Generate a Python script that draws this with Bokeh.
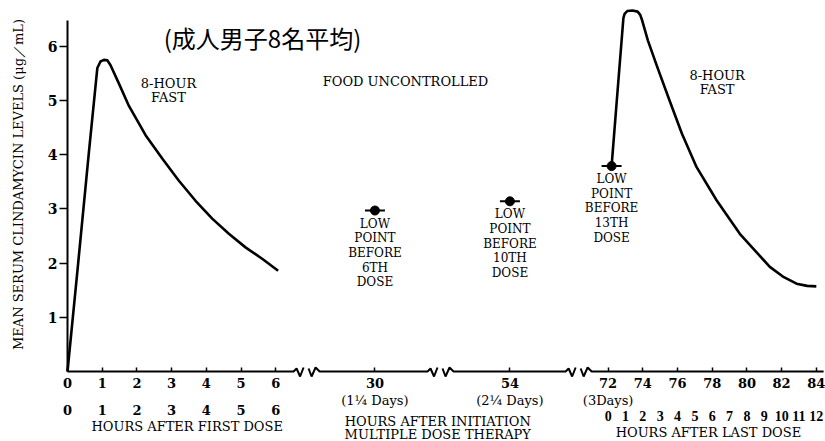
from bokeh.plotting import figure
from bokeh.models import Range1d, LinearAxis, FixedTicker, ColumnDataSource
from bokeh.core.properties import value
from bokeh.embed import file_html
from bokeh.resources import INLINE

# ---------------- data ----------------
first_dose_hours = [0.0, 0.30, 0.61, 0.86, 0.95, 1.05, 1.15, 1.24, 1.47, 1.77, 2.25,
                    2.73, 3.21, 3.69, 4.17, 4.65, 5.13, 5.61, 6.07]
first_dose_levels = [0.0, 1.95, 4.00, 5.60, 5.72, 5.75, 5.74, 5.65, 5.33, 4.90, 4.36,
                     3.93, 3.52, 3.15, 2.82, 2.54, 2.29, 2.08, 1.86]

last_dose_hours = [72.2, 72.5, 72.88, 72.95, 73.1, 73.4, 73.7, 73.85, 73.96, 74.29, 74.83,
                   75.54, 76.25, 77.10, 78.25, 79.59, 81.32, 82.13, 82.86, 83.47, 84.0]
last_dose_levels = [3.79, 5.0, 6.52, 6.60, 6.65, 6.66, 6.64, 6.58, 6.48, 6.11, 5.62,
                    5.00, 4.39, 3.77, 3.16, 2.54, 1.93, 1.74, 1.62, 1.58, 1.57]

trough_hours = [30, 54, 72.2]
trough_levels = [2.97, 3.14, 3.79]
trough_notes = [["LOW", "POINT", "BEFORE", "6TH", "DOSE"],
                ["LOW", "POINT", "BEFORE", "10TH", "DOSE"],
                ["LOW", "POINT", "BEFORE", "13TH", "DOSE"]]

y_ticks = [1, 2, 3, 4, 5, 6]
x_tick_hours = [0, 1, 2, 3, 4, 5, 6, 30, 54, 72, 74, 76, 78, 80, 82, 84]
x_tick_labels = ["0", "1", "2", "3", "4", "5", "6", "30", "54",
                 "72", "74", "76", "78", "80", "82", "84"]
first_dose_row_hours = [0, 1, 2, 3, 4, 5, 6]
first_dose_row_labels = ["0", "1", "2", "3", "4", "5", "6"]
day_hours = [30, 54, 72]
day_labels = ["(1¼ Days)", "(2¼ Days)", "(3Days)"]
last_dose_row_hours = [72, 73, 74, 75, 76, 77, 78, 79, 80, 81, 82, 83, 84]
last_dose_row_labels = ["0", "1", "2", "3", "4", "5", "6", "7", "8", "9", "10", "11", "12"]

title_text = "(成人男子8名平均)"
y_title = "MEAN SERUM CLINDAMYCIN LEVELS (μg／mL)"

# ---------------- layout ----------------
W, H = 825, 441
PX_U = 34.7     # px per display unit (x)
PX_V = 54.2     # px per level unit (y)
ORIGIN_X = 67   # canvas px of x=0
ORIGIN_Y = 371  # canvas px of level 0

# broken time axis: segment start hour, display start, scale, upper limit
SEG_H = [0, 30, 54, 72]
SEG_U = [0.0, 8.86, 12.75, 15.58]
SEG_K = [1.0, 1.0, 1.0, 0.5]
SEG_LIM = [20, 45, 65, 1e9]


def to_u(h):
    for h0, u0, k, lim in zip(SEG_H, SEG_U, SEG_K, SEG_LIM):
        if h < lim:
            return u0 + (h - h0) * k
    return None


def pu(px):
    return px / PX_U


def pv(px):
    return -px / PX_V


BREAKS_U = [6.89, 10.75, 14.73]
U_END = 21.79
Y_TOP = 6.48

FONT = "DejaVu Serif"

p = figure(width=W, height=H, output_backend="svg", toolbar_location=None,
           x_axis_location=None, y_axis_location=None,
           x_range=Range1d(-ORIGIN_X / PX_U, (W - ORIGIN_X) / PX_U),
           y_range=Range1d((ORIGIN_Y - H) / PX_V, ORIGIN_Y / PX_V),
           min_border=0, outline_line_color=None,
           background_fill_color="white", border_fill_color="white")
p.grid.visible = False

# y axis (real axis, fixed at x=0)
yaxis = LinearAxis(fixed_location=0, bounds=(0, Y_TOP),
                   ticker=FixedTicker(ticks=y_ticks),
                   axis_line_width=2, axis_line_color="black",
                   major_tick_out=8, major_tick_in=0, major_tick_line_width=1.5,
                   minor_tick_line_color=None, major_label_standoff=2,
                   major_label_text_font=FONT, major_label_text_font_style="bold",
                   major_label_text_font_size="14px", major_label_text_color="black")
p.add_layout(yaxis, "left")

# x axis (real axis for ticks + first row of labels, line drawn with breaks)
x_tick_u = [to_u(h) for h in x_tick_hours]
xaxis = LinearAxis(fixed_location=0, ticker=FixedTicker(ticks=x_tick_u),
                   major_label_overrides={u: lab for u, lab in zip(x_tick_u, x_tick_labels)},
                   axis_line_color=None, major_tick_in=4, major_tick_out=0,
                   major_tick_line_width=1.5, minor_tick_line_color=None,
                   major_label_standoff=6,
                   major_label_text_font=FONT, major_label_text_font_style="bold",
                   major_label_text_font_size="13px", major_label_text_color="black")
p.add_layout(xaxis, "below")

# broken baseline with squiggles
left_sq = [(0, 0), (3, -3), (6.5, 5), (10, -4)]
right_sq = [(0, -3), (3, 5), (7, -4), (11, 0)]
axis_xs, axis_ys = [], []
for i in range(len(BREAKS_U) + 1):
    xs, ys = [], []
    if i == 0:
        xs.append(0.0)
        ys.append(0.0)
    else:
        rs = BREAKS_U[i - 1] + pu(2)
        for dx, dy in right_sq:
            xs.append(rs + pu(dx))
            ys.append(pv(dy))
    if i < len(BREAKS_U):
        ls = BREAKS_U[i] - pu(13)
        for dx, dy in left_sq:
            xs.append(ls + pu(dx))
            ys.append(pv(dy))
    else:
        xs.append(U_END)
        ys.append(0.0)
    axis_xs.append(xs)
    axis_ys.append(ys)
p.multi_line(axis_xs, axis_ys, line_color="black", line_width=2)

# curves
p.line([to_u(h) for h in first_dose_hours], first_dose_levels,
       line_color="black", line_width=2.6, line_join="round")
p.line([to_u(h) for h in last_dose_hours], last_dose_levels,
       line_color="black", line_width=2.6, line_join="round")

# trough points
tu = [to_u(h) for h in trough_hours]
p.scatter(tu, trough_levels, marker="dash", size=20, line_width=2, color="black")
p.scatter(tu, trough_levels, marker="circle", size=9, color="black")

# trough notes
nx, ny, nt, no = [], [], [], []
for u, lv, lines in zip(tu, trough_levels, trough_notes):
    for i, t in enumerate(lines):
        nx.append(u)
        ny.append(lv)
        nt.append(t)
        no.append(13 + 14.7 * i)
p.text(x="x", y="y", text="t", y_offset="o",
       source=ColumnDataSource(dict(x=nx, y=ny, t=nt, o=no)),
       text_font=value(FONT), text_font_size=value("12px"), text_color="black",
       text_align="center", text_baseline="middle")

# plot annotations
ann_x = [2.91, 2.91, 9.74, 18.72, 18.72]
ann_y = [5.31, 5.05, 5.35, 5.46, 5.20]
ann_t = ["8-HOUR", "FAST", "FOOD UNCONTROLLED", "8-HOUR", "FAST"]
p.text(ann_x, ann_y, ann_t, text_font=value(FONT), text_font_size=value("13px"),
       text_color="black", text_align="center", text_baseline="middle")

# title
p.text([5.62], [6.16], [title_text], text_font=value("Noto Sans CJK JP"),
       text_font_size=value("24px"), text_color="black",
       text_align="center", text_baseline="middle")

# y axis title
p.text([-1.426], [3.45], [y_title], angle=1.5707963, text_font=value(FONT),
       text_font_size=value("13px"), text_color="black",
       text_align="center", text_baseline="middle")


# extra rows below the axis
def row(hours, labels, offset, size, bold, font=FONT):
    p.text([to_u(h) for h in hours], [0] * len(hours), labels, y_offset=offset,
           text_font=value(font), text_font_size=value(size),
           text_font_style=value("bold" if bold else "normal"), text_color="black",
           text_align="center", text_baseline="middle")


row(day_hours, day_labels, 29, "13px", False)
row(first_dose_row_hours, first_dose_row_labels, 38.5, "13px", True)
row(last_dose_row_hours, last_dose_row_labels, 44.5, "14px", True, "Liberation Serif")

axis_titles_x = [3.45, 10.67, 10.67, 18.47]
axis_titles_off = [55, 50, 63, 61]
axis_titles = ["HOURS AFTER FIRST DOSE", "HOURS AFTER INITIATION",
               "MULTIPLE DOSE THERAPY", "HOURS AFTER LAST DOSE"]
p.text(axis_titles_x, [0] * 4, axis_titles, y_offset=axis_titles_off,
       text_font=value(FONT), text_font_size=value("13px"), text_color="black",
       text_align="center", text_baseline="middle")

open("out.html", "w").write(file_html(p, INLINE))
